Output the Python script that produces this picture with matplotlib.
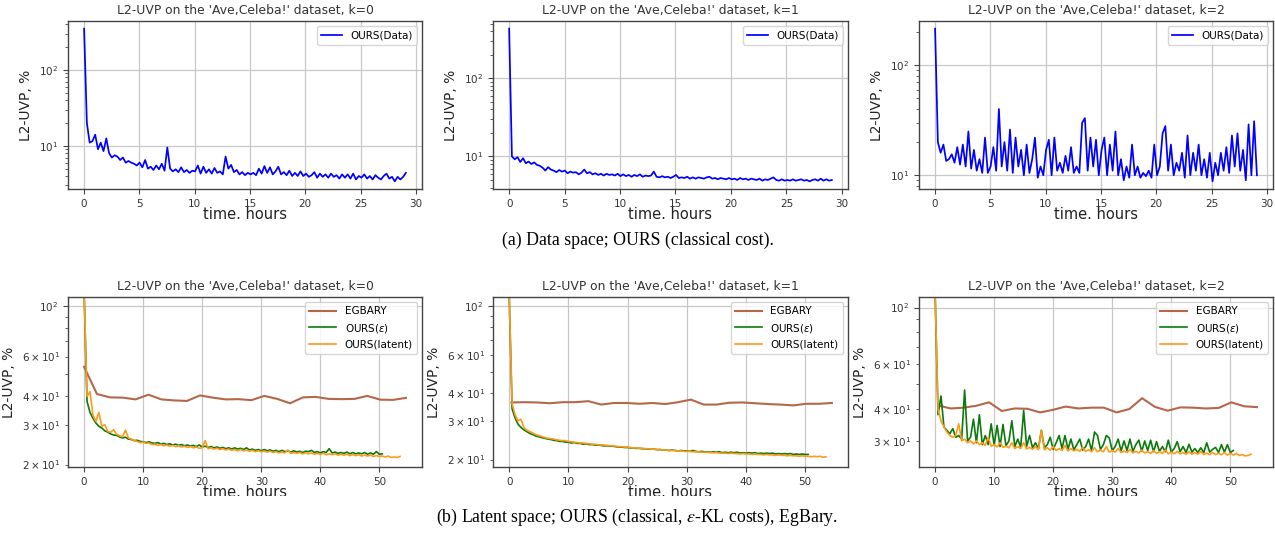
import numpy as np
import matplotlib
matplotlib.use("Agg")
import matplotlib.pyplot as plt
from matplotlib.patches import Rectangle

# ---------------- data ----------------
TOP_T_END = 29.1
top_k0 = [348, 20, 11, 11.5, 14, 9, 11, 8.5, 12.5, 8, 7, 7.5, 7.2, 6.5, 7, 6, 6.3, 6, 5.8, 5.5,
          6, 5.2, 6.5, 5, 5.3, 4.8, 5.5, 4.9, 5.8, 4.7, 9.5, 5, 4.6, 4.9, 4.5, 5.2, 4.5, 4.8, 4.4, 4.7,
          4.6, 5.5, 4.3, 5.3, 4.4, 4.9, 4.3, 5.1, 4.4, 4.6, 4.2, 7.2, 5.0, 5.6, 4.5, 4.8, 4.2, 4.5, 4.1, 4.4,
          4.2, 4.4, 4.1, 5.0, 4.3, 5.4, 4.4, 5.2, 4.2, 4.6, 5.3, 4.2, 4.5, 4.1, 4.7, 4.0, 4.4, 4.0, 4.6, 4.0,
          4.3, 3.9, 4.1, 4.5, 3.8, 4.3, 3.9, 4.2, 3.8, 4.3, 3.9, 4.1, 3.7, 4.2, 3.8, 4.2, 3.7, 4.3, 3.6, 4.0,
          3.8, 4.2, 3.7, 4.0, 3.6, 4.1, 3.8, 3.6, 4.0, 4.3, 3.7, 3.9, 3.4, 3.9, 3.6, 3.9, 4.4]
top_k1 = [434, 10, 9.2, 9.8, 8.5, 9.5, 8.2, 8.6, 8.0, 8.4, 7.8, 7.6, 7.2, 6.6, 7.3, 6.8, 6.6, 6.3, 6.7, 6.4,
          6.6, 6.1, 6.4, 6.2, 6.3, 5.9, 6.2, 6.8, 6.1, 6.3, 5.9, 6.1, 5.8, 6.0, 5.7, 6.0, 5.8, 5.9, 5.7, 6.0,
          5.6, 5.9, 5.6, 5.8, 5.5, 5.8, 5.6, 5.9, 5.5, 5.7, 5.6, 5.7, 6.4, 5.5, 5.4, 5.6, 5.4, 5.5, 5.3, 5.5,
          5.8, 5.3, 5.4, 5.3, 5.5, 5.2, 5.4, 5.2, 5.4, 5.3, 5.2, 5.4, 5.5, 5.2, 5.3, 5.1, 5.3, 5.2, 5.1, 5.3,
          5.1, 5.2, 5.0, 5.3, 5.1, 5.2, 5.0, 5.2, 5.1, 5.0, 5.2, 4.9, 5.1, 5.0, 5.2, 5.4, 5.0, 4.9, 5.1, 4.9,
          5.0, 4.9, 5.1, 4.9, 5.0, 5.1, 4.9, 5.0, 4.8, 5.0, 5.1, 4.9, 5.2, 4.9, 5.1, 4.9, 5.0]
top_k2 = [215, 20, 16, 19, 13.5, 14, 15.5, 13, 18, 12.5, 19, 12, 25, 11.5, 17, 11, 14, 10.5, 22, 10.5,
          12, 18, 11, 40, 12, 20, 11, 26, 10.5, 22, 12, 17, 10, 19, 10.5, 14, 22, 9.5, 12, 10,
          17, 21, 10, 22, 11, 13, 10.5, 15, 11, 18, 10.5, 12, 10.5, 30, 33, 11, 22, 12, 21, 10,
          17, 22, 10, 19, 11, 25, 10, 14, 9, 12, 9.5, 19, 10, 12, 9.5, 10.5, 9.8, 11, 9.5, 19,
          10, 12, 24, 28, 11, 19, 10, 13, 11, 16, 9.5, 23, 10, 16, 11, 19, 10, 14, 9.5, 16,
          8.8, 13, 10, 16, 11, 18, 10.5, 23, 12, 24, 11, 17, 9, 29, 10, 31, 10]

G_T_END = 50.5   # OURS(eps) last time, hours
O_T_END = 53.5   # OURS(latent) last time, hours

eg_k0 = [54, 41, 39.6, 39.5, 38.8, 40.7, 38.8, 38.4, 38.2, 40.4, 39.5, 38.8, 38.9, 38.5, 40.2, 39.0,
         37.3, 39.6, 39.8, 39.0, 38.9, 39.0, 40.2, 38.7, 38.6, 39.4]
eg_k1 = [36.4, 36.5, 36.4, 36.1, 36.5, 36.5, 36.9, 35.6, 36.2, 36.2, 35.9, 36.2, 35.8, 36.5, 37.5, 35.6,
         35.6, 36.3, 36.4, 36.1, 35.8, 35.6, 35.3, 35.9, 35.9, 36.2]
eg_k2 = [41.3, 40.2, 40.5, 41.2, 42.5, 39.3, 40.2, 40.1, 38.8, 39.7, 40.9, 40.2, 40.5, 40.5, 38.8, 40.0,
         44.1, 40.8, 39.4, 40.6, 40.5, 40.2, 40.4, 42.5, 41.0, 40.7]
eg_t_start = [0.0, 0.4, 0.5]
EG_T_END = 54.5

eps_k0 = [115, 38, 34, 32, 30.5, 29.5, 29, 28.2, 27.8, 27.3, 27.0, 26.9, 26.5, 26.2, 26.4, 25.9, 25.8, 25.5,
          25.6, 25.3, 25.2, 25.0, 25.2, 24.9, 24.8, 25.0, 24.6, 24.8, 24.5, 24.7, 24.4, 24.6, 24.3, 24.5, 24.2,
          24.4, 24.1, 24.3, 24.0, 24.4, 23.9, 24.1, 23.8, 24.0, 23.7, 23.9, 23.6, 23.8, 23.5, 23.7, 23.4, 23.7,
          23.4, 23.6, 23.3, 23.7, 23.2, 23.4, 23.1, 23.3, 23.0, 23.3, 23.0, 23.2, 22.9, 23.1, 22.8, 23.1, 22.8,
          23.0, 22.7, 23.0, 22.7, 22.9, 22.6, 22.9, 22.8, 23.1, 22.6, 22.8, 22.5, 22.8, 22.6, 23.5, 22.5, 22.7,
          22.4, 22.6, 22.4, 22.7, 22.3, 22.6, 22.3, 22.5, 22.3, 22.6, 22.2, 22.5, 22.2, 22.8, 22.2, 22.3]
lat_k0 = [115, 40, 42, 33, 31, 34, 29.5, 30, 28, 27.8, 28.5, 27.2, 26.8, 26.5, 28.4, 26.2, 25.9, 25.5, 25.3,
          25.0, 25.1, 24.8, 24.9, 24.5, 24.6, 24.3, 24.5, 24.2, 24.4, 24.1, 24.3, 24.0, 24.2, 23.9, 24.1, 23.8,
          24.0, 23.7, 23.9, 23.6, 23.7, 25.5, 23.5, 23.7, 23.4, 23.6, 23.3, 23.5, 23.2, 23.4, 23.1, 23.3, 23.0,
          23.3, 23.0, 23.2, 22.9, 23.1, 22.8, 23.0, 22.8, 22.9, 22.7, 22.9, 22.6, 22.8, 22.5, 22.7, 22.5, 23.2,
          22.4, 22.6, 22.4, 22.6, 22.3, 22.5, 22.3, 22.5, 22.2, 22.4, 22.2, 22.4, 22.1, 22.3, 22.1, 22.3, 22.0,
          22.2, 22.0, 22.2, 21.9, 22.1, 21.9, 22.1, 21.8, 22.0, 21.8, 22.0, 21.7, 21.9, 21.7, 21.8, 21.6, 21.8,
          21.5, 21.6, 21.5, 21.7]
eps_k1 = [115, 34, 31, 29, 28, 27.3, 26.8, 26.3, 26.0, 25.6, 25.4, 25.2, 25.0, 24.8, 24.7, 24.5, 24.4, 24.2,
          24.2, 24.0, 24.0, 23.8, 23.9, 23.7, 23.7, 23.5, 23.6, 23.4, 23.4, 23.3, 23.3, 23.2, 23.1, 23.1, 23.0,
          23.0, 22.9, 22.8, 22.8, 22.7, 22.7, 22.6, 22.6, 22.5, 22.5, 22.4, 22.4, 22.3, 22.3, 22.3, 22.2, 22.2,
          22.1, 22.1, 22.0, 22.1, 22.0, 21.9, 22.0, 21.9, 21.9, 21.8, 22.0, 21.8, 21.7, 21.8, 21.7, 21.7, 21.6,
          21.7, 21.6, 21.7, 21.5, 21.6, 21.5, 21.6, 21.5, 21.6, 21.4, 21.5, 21.4, 21.5, 21.4, 21.5, 21.3, 21.4,
          21.3, 21.4, 21.3, 21.4, 21.2, 21.3, 21.2, 21.3, 21.2, 21.3, 21.1, 21.2, 21.1, 21.2, 21.1, 21.1]
lat_k1 = [115, 36, 32, 30, 30.5, 28, 27.2, 26.8, 26.4, 26.0, 25.7, 25.5, 25.2, 25.0, 24.9, 24.8, 24.6, 24.5,
          24.4, 24.4, 24.2, 24.1, 24.0, 23.9, 23.8, 23.8, 23.7, 23.6, 23.5, 23.5, 23.4, 23.3, 23.3, 23.2, 23.1,
          23.1, 23.0, 22.9, 22.9, 22.8, 22.8, 22.7, 22.6, 22.6, 22.5, 22.5, 22.4, 22.4, 22.3, 22.3, 22.2, 22.2,
          22.1, 22.1, 22.0, 22.0, 22.0, 21.9, 21.9, 21.8, 21.8, 21.8, 21.7, 21.7, 21.7, 21.6, 21.6, 21.6, 21.5,
          21.5, 21.5, 21.4, 21.4, 21.4, 21.3, 21.4, 21.3, 21.3, 21.2, 21.3, 21.2, 21.2, 21.1, 21.2, 21.1, 21.1,
          21.0, 21.1, 21.0, 21.0, 20.9, 21.0, 20.9, 20.9, 20.8, 20.9, 20.8, 20.8, 20.7, 20.8, 20.7, 20.7, 20.6,
          20.7, 20.6, 20.7, 20.5, 20.6]
eps_k2 = [115, 38, 45, 34, 33, 32, 33.5, 31, 31.5, 30.5, 47.5, 30, 31, 36.5, 29.5, 38, 29, 31.5, 29, 35,
          28.8, 34.5, 28.5, 34.8, 28.7, 30, 36, 28.5, 30.5, 28.3, 39.5, 28.5, 31.5, 28.2, 29.5, 28, 33, 28.2,
          29, 31, 27.8, 29.5, 31.5, 28, 31.5, 27.8, 30.5, 27.7, 29, 30.5, 27.6, 28.5, 30.5, 27.5, 32.5, 31.5,
          27.8, 29, 31.5, 30.8, 27.5, 28.5, 30.5, 27.4, 30, 27.5, 30.5, 27.3, 29, 30.2, 27.3, 30.0, 27.5, 30.2,
          27.2, 29.8, 27.3, 28.5, 27.2, 30.2, 27.1, 28, 29.8, 27.2, 28.5, 27.0, 29.1, 27.1, 28, 27.0, 28.2,
          27.0, 29.5, 27.1, 27.8, 28.3, 27.0, 29, 27.1, 29, 27.0, 27.5]
lat_k2 = [115, 40, 36, 34, 32.5, 31.5, 31, 31.5, 35, 30, 30.5, 29.5, 30, 29.2, 30, 29, 29.5, 28.8, 31, 28.6,
          29, 28.4, 29.5, 28.3, 28.6, 28.2, 29.5, 28, 28.5, 28, 29.5, 27.9, 28.3, 27.8, 28.5, 27.7, 33, 27.7,
          28.2, 27.6, 28.5, 27.5, 28, 27.5, 28.8, 27.4, 28, 27.4, 27.8, 27.3, 28.3, 27.3, 27.7, 27.2, 28.2,
          27.2, 27.6, 27.2, 28.5, 27.1, 27.5, 27.1, 28, 27.0, 27.4, 27.0, 27.8, 26.9, 27.3, 26.9, 27.6, 26.9,
          27.2, 26.8, 27.5, 26.8, 27.2, 26.8, 27.6, 26.7, 27.1, 26.7, 27.3, 26.7, 27.0, 26.6, 27.2, 26.6, 27.0,
          26.6, 27.3, 26.5, 26.9, 26.5, 27.0, 26.5, 26.8, 26.5, 27.0, 26.4, 26.8, 26.4, 26.8, 26.3, 26.5, 26.2,
          26.3, 26.6]

ks = [0, 1, 2]
bottom_ylims = [(19.5, 110), (18.5, 110), (23.7, 110)]

# ---------------- styling ----------------
W, H = 1275, 535
TXT = '#333333'
plt.rcParams.update({
    'font.family': 'DejaVu Sans',
    'axes.edgecolor': '#444444',
    'axes.linewidth': 1.0,
    'xtick.color': '#444444',
    'ytick.color': '#444444',
    'xtick.labelcolor': TXT,
    'ytick.labelcolor': TXT,
    'xtick.labelsize': 7.5,
    'ytick.labelsize': 7.5,
})

fig = plt.figure(figsize=(W / 100, H / 100), dpi=100)
fig.patch.set_facecolor('white')


def add_ax(l, t, r, b):
    return fig.add_axes([l / W, 1 - b / H, (r - l) / W, (b - t) / H])


def style(ax, k):
    ax.set_yscale('log')
    ax.grid(True, which='major', color='#c8c8c8', linewidth=0.9)
    ax.set_axisbelow(True)
    ax.set_title(f"L2-UVP on the 'Ave,Celeba!' dataset, k={k}", fontsize=8.9, color=TXT, pad=5)
    ax.set_xlabel('time. hours', fontsize=10.5, color='#222222', labelpad=-1)
    ax.set_ylabel('L2-UVP, %', fontsize=10, color='#222222')
    ax.tick_params(which='major', length=3.5)
    ax.tick_params(which='minor', length=2)


lefts = [68, 493, 919]
rights = [422, 848, 1273]

top_series = [top_k0, top_k1, top_k2]
for i, k in enumerate(ks):
    ax = add_ax(lefts[i], 21, rights[i], 189)
    vals = top_series[i]
    t = np.linspace(0, TOP_T_END, len(vals))
    ax.plot(t, vals, color='#0000ff', lw=1.25, label='OURS(Data)')
    style(ax, k)
    ax.set_xticks([0, 5, 10, 15, 20, 25, 30])
    ax.legend(loc='upper right', fontsize=7.5, framealpha=0.8, edgecolor='#cccccc',
              handlelength=2.0, borderpad=0.4)

eg_series = [eg_k0, eg_k1, eg_k2]
eps_series = [eps_k0, eps_k1, eps_k2]
lat_series = [lat_k0, lat_k1, lat_k2]
for i, k in enumerate(ks):
    ax = add_ax(lefts[i], 297, rights[i], 467)
    eg = eg_series[i]
    ax.plot(np.linspace(eg_t_start[i], EG_T_END, len(eg)), eg, color='#b5674a', lw=1.5, label='EGBARY')
    ep = eps_series[i]
    ax.plot(np.linspace(0, G_T_END, len(ep)), ep, color='#0b7a0b', lw=1.2, label=r'OURS($\varepsilon$)')
    la = lat_series[i]
    ax.plot(np.linspace(0, O_T_END, len(la)), la, color='#ff9a1a', lw=1.2, label='OURS(latent)')
    style(ax, k)
    ax.set_ylim(*bottom_ylims[i])
    ax.set_xticks([0, 10, 20, 30, 40, 50])
    ax.legend(loc='upper right', fontsize=7.5, framealpha=0.8, edgecolor='#cccccc',
              handlelength=2.6, borderpad=0.4)

# white band imitating the cropped sub-figure edge
fig.add_artist(Rectangle((0, 0), 1, 1 - 496 / H, transform=fig.transFigure,
                         facecolor='white', edgecolor='none', zorder=10))

cap_font = ['Liberation Serif', 'DejaVu Serif']
fig.text(0.5, 1 - 240 / H, '(a) Data space; OURS (classical cost).', ha='center', va='center',
         fontsize=12.8, family=cap_font, color='black', zorder=11)
fig.text(0.5, 1 - 517 / H, r'(b) Latent space; OURS (classical, $\epsilon$-KL costs), EgBary.',
         ha='center', va='center', fontsize=12.8, family=cap_font, color='black', zorder=11,
         math_fontfamily='stix')

fig.savefig('out.png', dpi=100, facecolor='white')
